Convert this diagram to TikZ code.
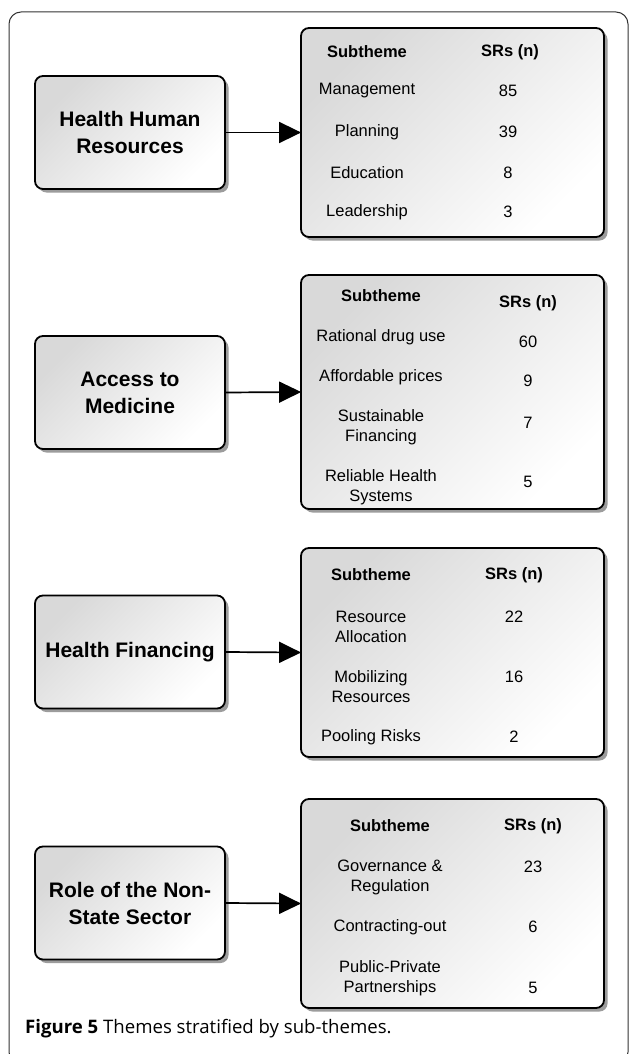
\documentclass[tikz,border=0pt]{standalone}
\usepackage{fontspec}
\setmainfont{Liberation Sans}
\newfontfamily\capfont{Open Sans}
\usetikzlibrary{shadows,arrows.meta}
\begin{document}
\begin{tikzpicture}[x=1pt,y=-1pt,
  boxbase/.style={draw=black, line width=1.8pt, rounded corners=8pt,
    top color=black!15, bottom color=white, shading angle=45,
    drop shadow={shadow xshift=3.5pt, shadow yshift=-3.5pt, fill=black!55, opacity=0.7}},
  themebox/.style={boxbase, minimum width=190pt, minimum height=113pt, inner sep=0pt,
    align=center, font=\fontsize{21}{27}\selectfont\bfseries},
  tablebox/.style={boxbase, minimum width=303pt, inner sep=0pt},
  hdr/.style={font=\fontsize{16.5}{20}\selectfont\bfseries, inner sep=0pt},
  cell/.style={font=\fontsize{16.5}{20}\selectfont, align=center, inner sep=0pt},
  link/.style={line width=1.7pt, -{Triangle[length=22pt,width=21pt]}, shorten >=-1pt}
]
\useasboundingbox (0,0) rectangle (629,1054);
\fill[white] (0,0) rectangle (629,1054);
\draw[line width=1pt, black!80, rounded corners=12pt] (9,12) rectangle (628,1064);

% ---------- Row 1
\node[themebox] (t1) at (130,132.5) {Health Human\\Resources};
\node[tablebox, minimum height=209pt] (r1) at (452.5,132.5) {};
\draw[link] (t1.east) -- (r1.west);
\node[hdr] (h1a) at (367,52) {Subtheme};
\node[hdr] (h1b) at (510,52) {SRs (n)};
\node[cell] (c1a) at (367,91) {Management};
\node[cell] (n1a) at (508,91) {85};
\node[cell] (c1b) at (367,132) {Planning};
\node[cell] (n1b) at (508,132) {39};
\node[cell] (c1c) at (367,173) {Education};
\node[cell] (n1c) at (508,173) {8};
\node[cell] (c1d) at (367,212) {Leadership};
\node[cell] (n1d) at (508,212) {3};

% ---------- Row 2
\node[themebox] (t2) at (130,392.5) {Access to\\Medicine};
\node[tablebox, minimum height=234pt] (r2) at (452.5,392) {};
\draw[link] (t2.east) -- (r2.west);
\node[hdr] (h2a) at (381,296) {Subtheme};
\node[hdr] (h2b) at (528,303) {SRs (n)};
\node[cell] (c2a) at (381,337) {Rational drug use};
\node[cell] (n2a) at (528,342) {60};
\node[cell] (c2b) at (381,377) {Affordable prices};
\node[cell] (n2b) at (528,381) {9};
\node[cell] (c2c) at (381,427) {Sustainable\\Financing};
\node[cell] (n2c) at (528,423) {7};
\node[cell] (c2d) at (381,487) {Reliable Health\\Systems};
\node[cell] (n2d) at (528,482) {5};

% ---------- Row 3
\node[themebox] (t3) at (130,652) {Health Financing};
\node[tablebox, minimum height=209pt] (r3) at (452.5,652.5) {};
\draw[link] (t3.east) -- (r3.west);
\node[hdr] (h3a) at (371,575) {Subtheme};
\node[hdr] (h3b) at (514,575) {SRs (n)};
\node[cell] (c3a) at (371,627) {Resource\\Allocation};
\node[cell] (n3a) at (514,617) {22};
\node[cell] (c3b) at (371,687) {Mobilizing\\Resources};
\node[cell] (n3b) at (514,677) {16};
\node[cell] (c3c) at (371,737) {Pooling Risks};
\node[cell] (n3c) at (514,737) {2};

% ---------- Row 4
\node[themebox] (t4) at (130,903) {Role of the Non-\\State Sector};
\node[tablebox, minimum height=209pt] (r4) at (452.5,903.5) {};
\draw[link] (t4.east) -- (r4.west);
\node[hdr] (h4a) at (390,826) {Subtheme};
\node[hdr] (h4b) at (533,826) {SRs (n)};
\node[cell] (c4a) at (390,877) {Governance \&\\Regulation};
\node[cell] (n4a) at (533,867) {23};
\node[cell] (c4b) at (390,927) {Contracting-out};
\node[cell] (n4b) at (533,927) {6};
\node[cell] (c4c) at (390,978) {Public-Private\\Partnerships};
\node[cell] (n4c) at (533,988) {5};

% ---------- Caption
\node[anchor=west, inner sep=0pt, font=\capfont\fontsize{18.6}{22}\selectfont] (cap) at (25,1029)
  {\textbf{Figure 5} Themes stratified by sub-themes.};
\end{tikzpicture}
\end{document}
